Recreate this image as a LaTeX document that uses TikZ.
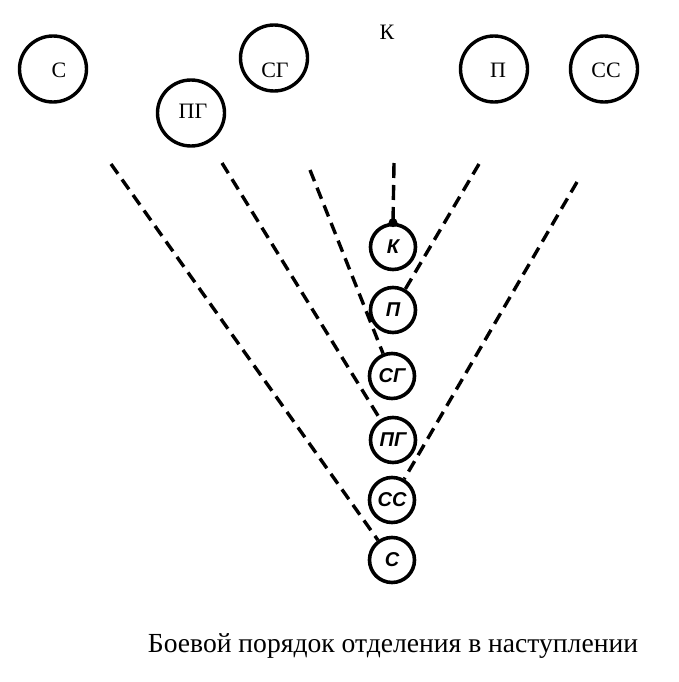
\documentclass[tikz,border=0pt]{standalone}
\usepackage{fontspec}
\setmainfont{Liberation Serif}
\newfontfamily\handfont{Liberation Sans}
\usetikzlibrary{shapes.geometric}
\begin{document}
\begin{tikzpicture}[x=1pt,y=-1pt,
  bigring/.style={draw, ellipse, line width=3.4pt, minimum width=67pt, minimum height=66pt, inner sep=0pt},
  smallring/.style={draw, circle, line width=3.6pt, minimum size=45pt, inner sep=0pt,
     font=\handfont\bfseries\itshape\fontsize{20}{20}\selectfont},
  toplbl/.style={inner sep=0pt, font=\fontsize{22}{22}\selectfont},
  route/.style={line width=3.4pt, dash pattern=on 12pt off 7pt}]
\useasboundingbox[fill=white] (0,0) rectangle (678,682);

% top formation
\node[bigring] (tC)  at (53,69) {};
\node[bigring] (tPG) at (191,113) {};
\node[bigring] (tSG) at (274,58) {};
\node[bigring] (tP)  at (494,69) {};
\node[bigring] (tSS) at (604,69) {};
\node[toplbl] (lC)  at (59,70) {С};
\node[toplbl] (lPG) at (193,111) {ПГ};
\node[toplbl] (lSG) at (275,70) {СГ};
\node[toplbl] (lK)  at (387,32) {К};
\node[toplbl] (lP)  at (498,70) {П};
\node[toplbl] (lSS) at (606,70) {СС};

% column
\node[smallring] (sK)  at (393,247) {К};
\node[smallring] (sP)  at (393,310) {П};
\node[smallring] (sSG) at (392,376) {СГ};
\node[smallring] (sPG) at (393,440) {ПГ};
\node[smallring] (sSS) at (392,500) {СС};
\node[smallring] (sC)  at (392,560) {С};

% free ends of the routes
\coordinate (eC)  at (111,164);
\coordinate (ePG) at (222,163);
\coordinate (eSG) at (310,170);
\coordinate (eK)  at (394,163);
\coordinate (eP)  at (479,164);
\coordinate (eSS) at (577,182);

\draw[route] (eC)  -- (sC);
\draw[route] (ePG) -- (sPG);
\draw[route] (eSG) -- (sSG);
\draw[route, dash pattern=on 15pt off 7pt] (eK) -- (sK.north);
\draw[route] (eP)  -- (sP);
\draw[route] (eSS) -- (sSS);
\fill (sK.north) circle (4.5pt);

\node[anchor=base, inner sep=0pt, font=\fontsize{27.6}{28}\selectfont] (cap) at (393,652)
  {Боевой порядок отделения в наступлении};
\end{tikzpicture}
\end{document}
